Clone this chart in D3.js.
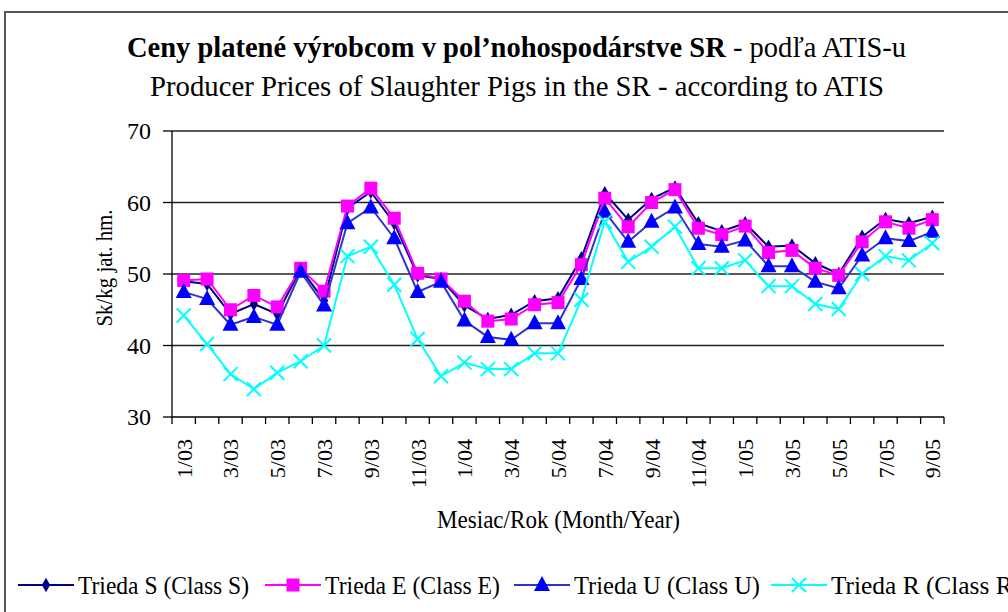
<!DOCTYPE html>
<html>
<head>
<meta charset="utf-8">
<script src="https://cdn.jsdelivr.net/npm/d3@7"></script>
<style>
  body { margin: 0; background: #fff; }
</style>
</head>
<body>
<div id="chart"></div>
<script>
var width = 1008, height = 612;
var FONT = "Liberation Serif";

// months 1/03 .. 9/05
var months = ["1/03","2/03","3/03","4/03","5/03","6/03","7/03","8/03","9/03","10/03","11/03","12/03",
              "1/04","2/04","3/04","4/04","5/04","6/04","7/04","8/04","9/04","10/04","11/04","12/04",
              "1/05","2/05","3/05","4/05","5/05","6/05","7/05","8/05","9/05"];
var shownLabels = ["1/03","3/03","5/03","7/03","9/03","11/03","1/04","3/04","5/04","7/04","9/04","11/04",
                   "1/05","3/05","5/05","7/05","9/05"];
var yTicks = [30, 40, 50, 60, 70];

var classS = [49.0,48.6,44.4,45.8,44.4,50.7,46.3,59.2,61.5,57.1,49.8,49.3,45.6,43.7,44.3,46.2,46.6,52.2,
              61.3,57.6,60.5,62.1,57.1,56.0,57.1,53.8,54.0,51.5,50.0,55.2,57.7,57.1,58.0];
var classE = [49.1,49.3,45.0,47.0,45.4,50.8,47.6,59.5,62.0,57.8,50.1,49.3,46.2,43.4,43.7,45.7,46.0,51.3,
              60.6,56.6,60.0,61.8,56.4,55.5,56.7,53.0,53.3,50.8,49.8,54.5,57.3,56.4,57.6];
var classU = [47.5,46.5,42.9,44.0,42.9,50.3,45.6,57.1,59.3,55.0,47.5,48.9,43.5,41.2,40.8,43.1,43.1,49.3,
              58.7,54.5,57.3,59.3,54.2,53.8,54.7,51.1,51.1,48.9,48.0,52.6,55.0,54.6,55.9];
var classR = [44.2,40.2,36.0,33.9,36.2,37.8,40.0,52.5,53.8,48.5,40.9,35.7,37.6,36.7,36.7,38.9,38.9,46.4,
              57.3,51.7,53.8,56.6,50.8,50.8,51.9,48.3,48.3,45.8,45.1,50.0,52.5,51.9,54.3];

var seriesNames = ["Trieda S (Class S)", "Trieda E (Class E)", "Trieda U (Class U)", "Trieda R (Class R)"];

var series = [
  {name: seriesNames[0], values: classS, line: "#000080", fill: "#000080", marker: "diamond"},
  {name: seriesNames[1], values: classE, line: "#FF00FF", fill: "#FF00FF", marker: "square"},
  {name: seriesNames[2], values: classU, line: "#3333CC", fill: "#0000FF", marker: "triangle"},
  {name: seriesNames[3], values: classR, line: "#00FFFF", fill: "#00FFFF", marker: "cross"}
];

var svg = d3.select("#chart").append("svg")
    .attr("width", width)
    .attr("height", height);

// outer frame
svg.append("rect")
    .attr("x", 5).attr("y", 12)
    .attr("width", 1020).attr("height", 640)
    .attr("fill", "#fff")
    .attr("stroke", "#555").attr("stroke-width", 2);

var x = d3.scalePoint().domain(months).range([172, 944]).padding(0.5);
var xb = d3.scaleLinear().domain([0, months.length]).range([172, 944]);
var y = d3.scaleLinear().domain([30, 70]).range([417, 131]);

// gridlines
svg.append("g").selectAll("line")
    .data(yTicks.filter(function(d){ return d > 30; }))
    .enter().append("line")
    .attr("x1", 172).attr("x2", 944)
    .attr("y1", function(d){ return y(d); })
    .attr("y2", function(d){ return y(d); })
    .attr("stroke", "#222").attr("stroke-width", 1.3);

// y axis
svg.append("line")
    .attr("x1", 172).attr("x2", 172).attr("y1", y(70)).attr("y2", y(30))
    .attr("stroke", "#000").attr("stroke-width", 1.3);
svg.append("g").selectAll("line")
    .data(yTicks).enter().append("line")
    .attr("x1", 163).attr("x2", 172)
    .attr("y1", function(d){ return y(d); })
    .attr("y2", function(d){ return y(d); })
    .attr("stroke", "#000").attr("stroke-width", 1.3);
svg.append("g").selectAll("text")
    .data(yTicks).enter().append("text")
    .attr("x", 151)
    .attr("y", function(d){ return y(d) + 8; })
    .attr("text-anchor", "end")
    .attr("font-family", FONT)
    .attr("font-size", 24)
    .text(function(d){ return d; });

// x axis
svg.append("line")
    .attr("x1", 172).attr("x2", 944).attr("y1", y(30)).attr("y2", y(30))
    .attr("stroke", "#000").attr("stroke-width", 1.3);
svg.append("g").selectAll("line")
    .data(d3.range(months.length + 1)).enter().append("line")
    .attr("x1", function(d){ return xb(d); })
    .attr("x2", function(d){ return xb(d); })
    .attr("y1", y(30)).attr("y2", y(30) + 7)
    .attr("stroke", "#000").attr("stroke-width", 1.3);
svg.append("g").selectAll("text")
    .data(shownLabels).enter().append("text")
    .attr("transform", function(d){ return "translate(" + (x(d) + 8) + ",439) rotate(-90)"; })
    .attr("text-anchor", "end")
    .attr("font-family", FONT)
    .attr("font-size", 22)
    .text(function(d){ return d; });

// titles
var t1 = svg.append("text")
    .attr("x", 127).attr("y", 57)
    .attr("textLength", 779).attr("lengthAdjust", "spacingAndGlyphs")
    .attr("font-family", FONT)
    .attr("font-size", 29);
t1.append("tspan").attr("font-weight", "bold").text("Ceny platené výrobcom v pol’nohospodárstve SR");
t1.append("tspan").text(" - podľa ATIS-u");

svg.append("text")
    .attr("x", 150).attr("y", 96)
    .attr("textLength", 734).attr("lengthAdjust", "spacingAndGlyphs")
    .attr("font-family", FONT)
    .attr("font-size", 29)
    .text("Producer Prices of Slaughter Pigs in the SR - according to ATIS");

svg.append("text")
    .attr("transform", "translate(112,268) rotate(-90)")
    .attr("text-anchor", "middle")
    .attr("textLength", 117).attr("lengthAdjust", "spacingAndGlyphs")
    .attr("font-family", FONT)
    .attr("font-size", 23)
    .text("Sk/kg jat. hm.");

svg.append("text")
    .attr("x", 437).attr("y", 528)
    .attr("textLength", 243).attr("lengthAdjust", "spacingAndGlyphs")
    .attr("font-family", FONT)
    .attr("font-size", 25)
    .text("Mesiac/Rok (Month/Year)");

function drawMarker(g, type, cx, cy, fill) {
  if (type === "diamond") {
    g.append("path").attr("d", d3.symbol(d3.symbolDiamond, 60)())
      .attr("transform", "translate(" + cx + "," + cy + ")").attr("fill", fill);
  } else if (type === "square") {
    g.append("rect").attr("x", cx - 6.5).attr("y", cy - 6.5)
      .attr("width", 13).attr("height", 13).attr("fill", fill);
  } else if (type === "triangle") {
    g.append("path").attr("d", "M" + cx + "," + (cy - 9) + "L" + (cx + 8) + "," + (cy + 6) + "L" + (cx - 8) + "," + (cy + 6) + "Z")
      .attr("fill", fill);
  } else {
    g.append("path").attr("d", "M" + (cx - 7) + "," + (cy - 7) + "L" + (cx + 7) + "," + (cy + 7) +
                          "M" + (cx - 7) + "," + (cy + 7) + "L" + (cx + 7) + "," + (cy - 7))
      .attr("stroke", fill).attr("stroke-width", 2).attr("fill", "none");
  }
}

var line = d3.line()
    .x(function(d, i){ return x(months[i]); })
    .y(function(d){ return y(d); });

series.forEach(function(s) {
  var g = svg.append("g");
  g.append("path")
    .datum(s.values)
    .attr("d", line)
    .attr("fill", "none")
    .attr("stroke", s.line)
    .attr("stroke-width", 2);
  s.values.forEach(function(v, i) {
    drawMarker(g, s.marker, x(months[i]), y(v), s.fill);
  });
});

// legend
var legendX = [18, 265, 514, 771];
var legendTextW = [171, 175, 186, 190];
series.forEach(function(s, i) {
  var g = svg.append("g");
  g.append("line")
    .attr("x1", legendX[i]).attr("x2", legendX[i] + 56)
    .attr("y1", 585).attr("y2", 585)
    .attr("stroke", s.line).attr("stroke-width", 2);
  drawMarker(g, s.marker, legendX[i] + 28, 585, s.fill);
  g.append("text")
    .attr("x", legendX[i] + 60).attr("y", 594)
    .attr("textLength", legendTextW[i]).attr("lengthAdjust", "spacingAndGlyphs")
    .attr("font-family", FONT)
    .attr("font-size", 25)
    .text(s.name);
});
</script>
</body>
</html>
